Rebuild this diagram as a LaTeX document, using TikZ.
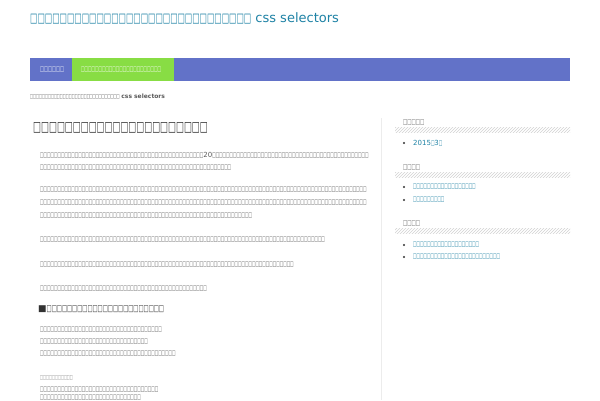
\documentclass[tikz,border=0pt]{standalone}
\usepackage{fontspec}
\setmainfont{DejaVu Sans}
\newfontfamily\tofuf[FakeStretch=0.6]{DejaVu Sans}
\newfontfamily\tofub[FakeStretch=0.525]{DejaVu Sans}
\usetikzlibrary{patterns}
\definecolor{teal1}{RGB}{30,130,165}
\definecolor{navb}{RGB}{98,114,200}
\definecolor{navg}{RGB}{136,221,68}
\definecolor{txt}{RGB}{90,90,90}
\definecolor{dark}{RGB}{50,50,50}
\newcommand\T[1]{{\tofuf\foreach\i in {1,...,#1}{□}}}
\newcommand\B[1]{{\tofub\foreach\i in {1,...,#1}{□}}}
\tikzset{
 t/.style={anchor=west,inner sep=0pt,font=\fontsize{7}{8}\selectfont,text=txt},
 side/.style={anchor=west,inner sep=0pt,font=\fontsize{7}{8}\selectfont,text=teal1},
 sh/.style={anchor=west,inner sep=0pt,font=\fontsize{7.5}{8}\selectfont,text=gray!80!black},
}
\begin{document}
\begin{tikzpicture}[x=1pt,y=-1pt]
\useasboundingbox (0,0) rectangle (600,400);
\fill[white] (0,0) rectangle (600,400);
\node[anchor=west,inner sep=0pt,text=teal1,font=\fontsize{13}{16}\selectfont] (title) at (30,18) {\T{30} css selectors};
\fill[navb] (30,58) rectangle (570,81);
\fill[navg] (72,58) rectangle (174,81);
\node[anchor=west,inner sep=0pt,text=white,font=\fontsize{7}{8}\selectfont] (n1) at (40,70) {\T{6}};
\node[anchor=west,inner sep=0pt,text=white,font=\fontsize{7}{8}\selectfont] (n2) at (81,70) {\B{23}};
\node[anchor=west,inner sep=0pt,text=txt,font=\fontsize{6}{7}\selectfont] (bc) at (30,97) {\B{30} \textbf{css selectors}};
\node[anchor=west,inner sep=0pt,text=dark,font=\fontsize{14}{16}\selectfont] (h1) at (33,128) {\T{22}};
\draw[gray!15] (381,118) -- (381,400);
\node[t] (l1) at (40,155) {\B{47}20\B{45}};
\node[t] (l2) at (40,168) {\B{55}};
\node[t] (l3) at (40,190) {\B{94}};
\node[t] (l4) at (40,203) {\B{94}};
\node[t] (l5) at (40,216) {\B{61}};
\node[t] (l6) at (40,240) {\B{82}};
\node[t] (l7) at (40,265) {\B{73}};
\node[t] (l8) at (40,289) {\B{48}};
\node[anchor=west,inner sep=0pt,text=dark,font=\fontsize{9}{11}\selectfont] (h2) at (38,309) {■\T{23}};
\node[t] (l9) at (40,330) {\B{35}};
\node[t] (l10) at (40,342) {\B{31}};
\node[t] (l11) at (40,354) {\B{39}};
\node[t,text=gray,font=\fontsize{6}{7}\selectfont] (l12) at (40,378) {\B{11}};
\node[t] (l13) at (40,390) {\B{34}};
\node[t] (l14) at (40,398) {\B{29}};
\foreach \y/\n in {123/5,168/4,224/4}{
  \node[sh] at (403,\y) {\T{\n}};
  \fill[pattern=north east lines,pattern color=gray!35] (395,127+\y-123) rectangle (570,132+\y-123);
}
\foreach \y/\n in {187/18,200/9,245/19,257/25}{
  \fill[dark] (404,\y) circle (1.2);
  \node[side] at (413,\y) {\B{\n}};
}
\fill[dark] (404,143) circle (1.2);
\node[side] (arch) at (413,143) {2015\B{1}3\B{1}};
\end{tikzpicture}
\end{document}
